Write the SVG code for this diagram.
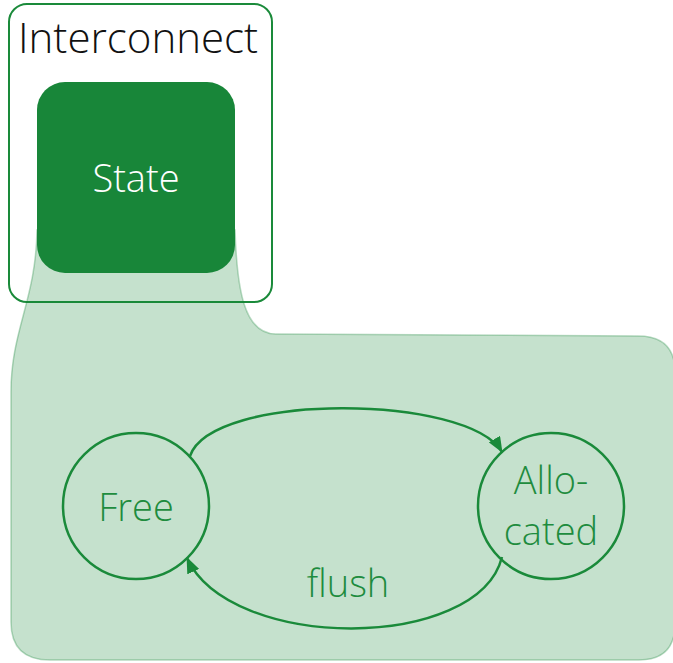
<svg xmlns="http://www.w3.org/2000/svg" width="673" height="663" viewBox="0 0 673 663">
  <style>
    .lbl { font-family: "Open Sans", "Liberation Sans", sans-serif; font-weight: 300; font-size: 38px; }
    .state-edge { fill: none; stroke: #1a8a3a; stroke-width: 2.5; }
    .conn { fill: none; stroke: #1a8a3a; stroke-width: 2.5; }
  </style>
  <defs>
    <marker id="arrow" viewBox="0 0 16 13" markerWidth="16" markerHeight="13" refX="15" refY="6.5" orient="auto" markerUnits="userSpaceOnUse">
      <path d="M0,0 L16,6.5 L0,13 Z" fill="#1a8a3a"/>
    </marker>
  </defs>
  <rect width="673" height="663" fill="#ffffff"/>

  <!-- outer container -->
  <g id="interconnect">
    <rect x="9" y="4" width="263" height="298" rx="18" fill="none" stroke="#1a8a3a" stroke-width="2"/>
    <text class="lbl" x="138" y="53" text-anchor="middle" fill="#111111" style="font-size:42px">Interconnect</text>
  </g>

  <!-- expanded region of the State node -->
  <g id="state-detail">
    <path d="M 235,230 C 237,290 244,334 276,334 L 638,336 Q 675,336 675,372 L 675,624 Q 675,660 639,660 L 50,660 Q 11,660 11,622 L 11,392 C 11,330 36,300 37,230 Z"
          fill="#188639" fill-opacity="0.25" stroke="#188639" stroke-opacity="0.3" stroke-width="1.5"/>
  </g>

  <g id="state">
    <rect x="37" y="82" width="198" height="191" rx="28" fill="#188639"/>
    <text class="lbl" x="136" y="192" text-anchor="middle" fill="#ffffff">State</text>
  </g>

  <g id="free">
    <circle cx="136" cy="506" r="73" class="state-edge"/>
    <text class="lbl" x="136" y="521" text-anchor="middle" fill="#1e8c3e">Free</text>
  </g>

  <g id="allocated">
    <circle cx="551" cy="506" r="73" class="state-edge"/>
    <text class="lbl" text-anchor="middle" fill="#1e8c3e"><tspan x="551" y="494">Allo-</tspan><tspan x="551" y="545">cated</tspan></text>
  </g>

  <g id="connectors">
    <path d="M 190,456 C 212,392 468,394 502,452" class="conn" marker-end="url(#arrow)"/>
    <path d="M 502,557 C 478,652 230,652 187,558" class="conn" marker-end="url(#arrow)"/>
    <text class="lbl" x="348" y="597" text-anchor="middle" fill="#1e8c3e">flush</text>
  </g>
</svg>
